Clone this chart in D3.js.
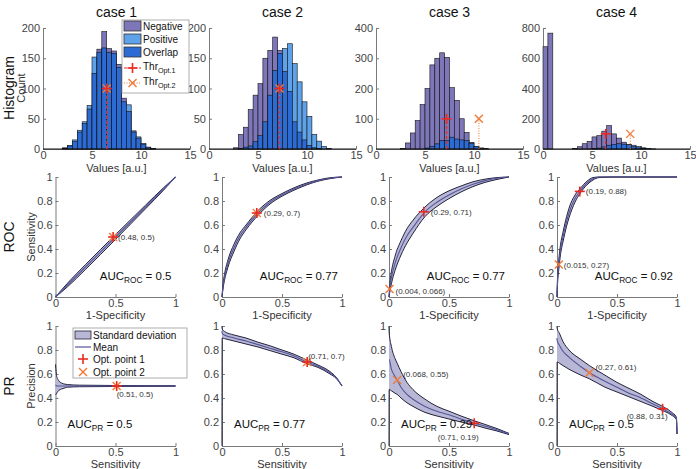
<!DOCTYPE html>
<html><head><meta charset="utf-8">
<script src="https://cdn.jsdelivr.net/npm/d3@7"></script>
<style>
body{margin:0;background:#fff}
text{font-family:"Liberation Sans",Arial,Helvetica,sans-serif}
</style>
</head><body>
<svg id="c" width="696" height="469"></svg>
<script>
// ---------------- DATA ----------------
const caseNames = ["case 1","case 2","case 3","case 4"];
const rowNames = ["Histogram","ROC","PR"];
const binStarts = [0,0.5,1,1.5,2,2.5,3,3.5,4,4.5,5,5.5,6,6.5,7,7.5,8,8.5,9,9.5,10,10.5,11,11.5,12,12.5,13,13.5,14,14.5];
const binWidth = 0.5;
const hist1Neg = [0,0,0,0,2,5,12,28,42,66,125,165,194,166,162,140,84,62,30,18,8,3,1,0,0,0,0,0,0,0];
const hist1Pos = [0,0,0,0,1,6,15,31,45,72,152,160,167,160,158,135,78,73,28,20,9,3,1,0,0,0,0,0,0,0];
const hist2Neg = [0,0,0,0,0,2,24,36,65,89,108,150,163,185,163,128,95,45,28,15,6,2,1,0,0,0,0,0,0,0];
const hist2Pos = [0,0,0,0,0,0,1,3,5,12,22,45,89,130,158,166,174,141,111,78,54,24,13,4,1,0,0,0,0,0];
const hist3Neg = [0,0,0,0,0,2,20,53,94,147,200,278,300,318,303,203,161,100,55,22,8,3,0,0,0,0,0,0,0,0];
const hist3Pos = [0,0,0,0,0,0,0,0,0,0,3,9,17,28,28,39,33,30,28,19,9,3,1,0,0,0,0,0,0,0];
const hist4Neg = [676,766,0,0,0,0,3,15,35,50,80,88,118,155,100,72,45,30,15,7,3,0,0,0,0,0,0,0,0,0];
const hist4Pos = [0,0,0,0,0,0,0,0,0,0,2,6,14,25,30,35,32,28,25,17,8,3,1,0,0,0,0,0,0,0];
const histNeg = [hist1Neg,hist2Neg,hist3Neg,hist4Neg];
const histPos = [hist1Pos,hist2Pos,hist3Pos,hist4Pos];
const histYMax = [200,200,400,800];
const histXTicks = [0,5,10,15];
const histYTicks = [[0,50,100,150,200],[0,50,100,150,200],[0,100,200,300,400],[0,200,400,600,800]];
const thrOpt1 = [6.5,7.2,7.2,6.4];
const thrOpt2 = [6.5,7.2,10.5,8.9];
const thrCount = 100;

const unitTicks = [0,0.5,1];
const unitYTicks = [0,0.2,0.4,0.6,0.8,1];

// ROC: false positive rate (x), true positive rate lower / mean / upper
const roc1X    = [0,0.1,0.25,0.5,0.75,0.9,1];
const roc1Mean = [0,0.1,0.25,0.5,0.75,0.9,1];
const roc1Lo   = [0,0.085,0.23,0.48,0.735,0.89,1];
const roc1Hi   = [0,0.115,0.27,0.52,0.765,0.91,1];
const roc2X    = [0,0.01,0.02,0.05,0.1,0.15,0.2,0.3,0.4,0.5,0.6,0.7,0.8,0.9,1];
const roc2Mean = [0,0.10,0.16,0.28,0.41,0.51,0.58,0.70,0.79,0.85,0.90,0.94,0.97,0.99,1];
const roc2Lo   = [0,0.08,0.135,0.25,0.38,0.485,0.56,0.68,0.775,0.84,0.89,0.932,0.965,0.986,1];
const roc2Hi   = [0,0.12,0.185,0.31,0.44,0.535,0.60,0.72,0.805,0.862,0.91,0.948,0.975,0.994,1];
const roc3X    = [0,0.01,0.02,0.05,0.1,0.15,0.2,0.3,0.4,0.5,0.6,0.7,0.8,0.9,1];
const roc3Mean = [0,0.10,0.16,0.28,0.41,0.51,0.58,0.71,0.79,0.85,0.90,0.94,0.97,0.99,1];
const roc3Lo   = [0,0.06,0.11,0.22,0.35,0.45,0.53,0.67,0.755,0.82,0.875,0.92,0.955,0.98,1];
const roc3Hi   = [0,0.14,0.21,0.34,0.47,0.57,0.64,0.75,0.83,0.885,0.925,0.96,0.982,0.995,1];
const roc4X    = [0,0.005,0.015,0.03,0.05,0.08,0.1,0.15,0.19,0.25,0.3,0.35,0.5,1];
const roc4Mean = [0,0.15,0.27,0.40,0.50,0.63,0.70,0.82,0.88,0.95,0.985,1,1,1];
const roc4Lo   = [0,0.12,0.23,0.36,0.46,0.59,0.66,0.79,0.86,0.935,0.975,0.995,1,1];
const roc4Hi   = [0,0.18,0.31,0.44,0.54,0.67,0.74,0.85,0.90,0.965,0.995,1,1,1];

// PR: sensitivity (x), precision lower / mean / upper
const pr1X    = [0,0.005,0.01,0.02,0.03,0.05,0.08,0.1,0.2,0.5,1];
const pr1Mean = [0.51,0.505,0.5,0.5,0.5,0.5,0.5,0.5,0.5,0.5,0.5];
const pr1Lo   = [0.43,0.43,0.44,0.455,0.465,0.475,0.485,0.49,0.494,0.496,0.498];
const pr1Hi   = [0.68,0.62,0.58,0.555,0.54,0.525,0.515,0.512,0.507,0.504,0.502];
const pr2X    = [0,0.001,0.02,0.1,0.2,0.3,0.4,0.5,0.6,0.71,0.8,0.9,0.95,1];
const pr2Mean = [0.96,0.94,0.925,0.9,0.875,0.845,0.815,0.785,0.75,0.70,0.665,0.61,0.57,0.5];
const pr2Hi   = [1,0.975,0.955,0.925,0.9,0.865,0.835,0.8,0.765,0.715,0.675,0.62,0.575,0.5];
const pr2Lo   = [0,0.9,0.895,0.875,0.85,0.825,0.795,0.765,0.735,0.685,0.655,0.6,0.565,0.5];
const pr3X    = [0,0.001,0.02,0.05,0.068,0.1,0.15,0.2,0.3,0.4,0.5,0.6,0.71,0.8,0.9,1];
const pr3Mean = [0.72,0.72,0.64,0.58,0.55,0.49,0.43,0.39,0.33,0.29,0.26,0.225,0.19,0.165,0.135,0.1];
const pr3Hi   = [1,0.95,0.83,0.73,0.69,0.62,0.53,0.47,0.39,0.33,0.29,0.25,0.21,0.18,0.145,0.105];
const pr3Lo   = [0,0.47,0.46,0.44,0.43,0.4,0.36,0.33,0.28,0.25,0.225,0.2,0.175,0.15,0.125,0.095];
const pr4X    = [0,0.001,0.02,0.05,0.1,0.2,0.27,0.4,0.5,0.6,0.7,0.8,0.88,0.95,0.995,1];
const pr4Mean = [0.9,0.88,0.84,0.79,0.74,0.66,0.61,0.54,0.49,0.44,0.4,0.35,0.31,0.27,0.23,0.1];
const pr4Hi   = [1,0.98,0.94,0.87,0.8,0.72,0.67,0.59,0.53,0.48,0.43,0.37,0.33,0.285,0.24,0.1];
const pr4Lo   = [0,0.70,0.69,0.67,0.64,0.59,0.56,0.49,0.45,0.41,0.37,0.33,0.295,0.26,0.22,0.1];

const rocX = [roc1X,roc2X,roc3X,roc4X], rocMean=[roc1Mean,roc2Mean,roc3Mean,roc4Mean],
      rocLo=[roc1Lo,roc2Lo,roc3Lo,roc4Lo], rocHi=[roc1Hi,roc2Hi,roc3Hi,roc4Hi];
const prX = [pr1X,pr2X,pr3X,pr4X], prMean=[pr1Mean,pr2Mean,pr3Mean,pr4Mean],
      prLo=[pr1Lo,pr2Lo,pr3Lo,pr4Lo], prHi=[pr1Hi,pr2Hi,pr3Hi,pr4Hi];

const rocOpt1 = [[0.48,0.5],[0.29,0.7],[0.29,0.71],[0.19,0.88]];
const rocOpt2 = [[0.48,0.5],[0.29,0.7],[0.004,0.066],[0.015,0.27]];
const rocLbl1 = ["(0.48, 0.5)","(0.29, 0.7)","(0.29, 0.71)","(0.19, 0.88)"];
const rocLbl2 = [null,null,"(0.004, 0.066)","(0.015, 0.27)"];
const prOpt1 = [[0.51,0.5],[0.71,0.7],[0.71,0.19],[0.88,0.31]];
const prOpt2 = [[0.51,0.5],[0.71,0.7],[0.068,0.55],[0.27,0.61]];
const prLbl1 = ["(0.51, 0.5)","(0.71, 0.7)","(0.71, 0.19)","(0.88, 0.31)"];
const prLbl2 = [null,null,"(0.068, 0.55)","(0.27, 0.61)"];
const aucRoc = ["0.5","0.77","0.77","0.92"];
const aucPr  = ["0.5","0.77","0.29","0.5"];

// ---------------- LAYOUT / STYLE ----------------
const histX0=[43,209,376,543], histW=147, histTop=28, histBot=149;
const sqX0=[55.5,222,389,557], sqW=120;
const rocTop=177, rocBot=297, prTop=326, prBot=446;
const cNeg="#7d77b9", cPos="#5ea3ea", cOv="#2c6bd3";
const cBand="#b8b8d6", cEdge="#22223c", cMean="#55559a";
const cRed="#ea2a22", cOrg="#f07a38";
const axisCol="#7a7a7a", textCol="#444";
const FF='"Liberation Sans",Arial,Helvetica,sans-serif';
// label offsets [dx, dy, anchor]
const rocLbl1Off=[[5,3,"start"],[7,3,"start"],[7,3,"start"],[6,3,"start"]];
const rocLbl2Off=[null,null,[6,5,"start"],[5,3,"start"]];
const prLbl1Off=[[0,11,"start"],[1,-3,"start"],[-16,17,"middle"],[5,10,"end"]];
const prLbl2Off=[null,null,[6,-3,"start"],[6,-3,"start"]];

const svg=d3.select("#c");

function styleAxis(a){
  a.attr("font-family",FF).attr("font-size",11);
  a.select(".domain").attr("stroke",axisCol);
  a.selectAll(".tick line").attr("stroke",axisCol);
  a.selectAll(".tick text").attr("fill",textCol);
}
function drawAxes(x,y,xt,yt){
  const ax=svg.append("g").attr("transform",`translate(0,${y.range()[0]})`)
    .call(d3.axisBottom(x).tickValues(xt).tickSizeInner(-3).tickSizeOuter(0).tickPadding(2).tickFormat(d=>String(d)));
  const ay=svg.append("g").attr("transform",`translate(${x.range()[0]},0)`)
    .call(d3.axisLeft(y).tickValues(yt).tickSizeInner(-3).tickSizeOuter(0).tickPadding(3).tickFormat(d=>String(d)));
  styleAxis(ax); styleAxis(ay);
}
function plus(g,cx,cy,s,col){
  g.append("line").attr("x1",cx-s).attr("x2",cx+s).attr("y1",cy).attr("y2",cy).attr("stroke",col).attr("stroke-width",1.6);
  g.append("line").attr("x1",cx).attr("x2",cx).attr("y1",cy-s).attr("y2",cy+s).attr("stroke",col).attr("stroke-width",1.6);
}
function cross(g,cx,cy,s,col){
  g.append("line").attr("x1",cx-s).attr("x2",cx+s).attr("y1",cy-s).attr("y2",cy+s).attr("stroke",col).attr("stroke-width",1.4);
  g.append("line").attr("x1",cx-s).attr("x2",cx+s).attr("y1",cy+s).attr("y2",cy-s).attr("stroke",col).attr("stroke-width",1.4);
}
function subText(g,x,y,main,sub,rest,fs,anchor){
  const t=g.append("text").attr("x",x).attr("y",y).attr("font-size",fs).attr("fill","#111").attr("text-anchor",anchor||"start");
  t.append("tspan").text(main);
  t.append("tspan").attr("dy",3).attr("font-size",fs*0.72).text(sub);
  if(rest!==null) t.append("tspan").attr("dy",-3).text(rest);
  return t;
}
function rotLabel(x,y,txt,fs,col){
  svg.append("text").attr("transform",`translate(${x},${y}) rotate(-90)`).attr("text-anchor","middle")
    .attr("font-size",fs).attr("fill",col).text(txt);
}

// ---------------- ROW LABELS ----------------
rotLabel(14,88,rowNames[0],14,"#111");
rotLabel(14,237,rowNames[1],14,"#111");
rotLabel(14,386,rowNames[2],14,"#111");

// ---------------- HISTOGRAMS ----------------
caseNames.forEach((cn,k)=>{
  const x=d3.scaleLinear().domain([0,15]).range([histX0[k],histX0[k]+histW]);
  const y=d3.scaleLinear().domain([0,histYMax[k]]).range([histBot,histTop]);
  svg.append("text").attr("x",histX0[k]+histW/2).attr("y",17).attr("text-anchor","middle")
    .attr("font-size",14).attr("fill","#111").text(cn);
  drawAxes(x,y,histXTicks,histYTicks[k]);
  const g=svg.append("g");
  binStarts.forEach((b,i)=>{
    const n=histNeg[k][i], p=histPos[k][i];
    const hi=Math.max(n,p), lo=Math.min(n,p);
    const x0=x(b), w=x(b+binWidth)-x(b);
    if(hi>0) g.append("rect").attr("x",x0).attr("y",y(hi)).attr("width",w).attr("height",y(0)-y(hi))
      .attr("fill",n>=p?cNeg:cPos).attr("stroke","#111").attr("stroke-width",0.6);
    if(lo>0) g.append("rect").attr("x",x0).attr("y",y(lo)).attr("width",w).attr("height",y(0)-y(lo))
      .attr("fill",cOv).attr("stroke","#111").attr("stroke-width",0.6);
  });
  g.append("line").attr("x1",x(0)).attr("x2",x(15)).attr("y1",y(0)).attr("y2",y(0)).attr("stroke","#111").attr("stroke-width",1.2);
  // thresholds
  g.append("line").attr("x1",x(thrOpt2[k])).attr("x2",x(thrOpt2[k])).attr("y1",y(0)).attr("y2",y(thrCount))
    .attr("stroke",cOrg).attr("stroke-width",1).attr("stroke-dasharray","1,1.5");
  g.append("line").attr("x1",x(thrOpt1[k])).attr("x2",x(thrOpt1[k])).attr("y1",y(0)).attr("y2",y(thrCount))
    .attr("stroke",cRed).attr("stroke-width",1.2).attr("stroke-dasharray","3,2");
  cross(g,x(thrOpt2[k]),y(thrCount),4,cOrg);
  plus(g,x(thrOpt1[k]),y(thrCount),5,cRed);
  if(k===0) rotLabel(25,88,"Count",11,"#333");
  svg.append("text").attr("x",histX0[k]+histW/2).attr("y",172).attr("text-anchor","middle")
    .attr("font-size",11).attr("fill","#333").text("Values [a.u.]");
});

// histogram legend
(function(){
  const g=svg.append("g");
  g.append("rect").attr("x",122).attr("y",20).attr("width",67).attr("height",73).attr("fill","#fff").attr("stroke","#999").attr("stroke-width",0.8);
  const rows=[[26,"Negative",cNeg],[39,"Positive",cPos],[52,"Overlap",cOv]];
  rows.forEach(r=>{
    g.append("rect").attr("x",124).attr("y",r[0]-5).attr("width",17).attr("height",10).attr("fill",r[2]).attr("stroke","#333").attr("stroke-width",0.8);
    g.append("text").attr("x",143).attr("y",r[0]+3.5).attr("font-size",10).attr("fill","#111").text(r[1]);
  });
  g.append("line").attr("x1",124).attr("x2",141).attr("y1",68).attr("y2",68).attr("stroke",cRed).attr("stroke-dasharray","3,2").attr("stroke-width",1.2);
  plus(g,132.5,68,5,cRed);
  subText(g,143,70,"Thr","Opt.1",null,10);
  g.append("line").attr("x1",124).attr("x2",141).attr("y1",83).attr("y2",83).attr("stroke",cOrg).attr("stroke-dasharray","1,1.5").attr("stroke-width",1);
  cross(g,132.5,83,4,cOrg);
  subText(g,143,85,"Thr","Opt.2",null,10);
})();

// ---------------- ROC / PR ----------------
function curvePanel(k,top,bot,X,Lo,Mean,Hi,opt1,opt2,l1,l2,o1,o2,xlabel,ylabel,aucSub,aucVal,aucPos){
  const x=d3.scaleLinear().domain([0,1]).range([sqX0[k],sqX0[k]+sqW]);
  const y=d3.scaleLinear().domain([0,1]).range([bot,top]);
  drawAxes(x,y,unitTicks,unitYTicks);
  const g=svg.append("g");
  const idx=X.map((d,i)=>i);
  const area=d3.area().x(i=>x(X[i])).y0(i=>y(Lo[i])).y1(i=>y(Hi[i])).curve(d3.curveMonotoneX);
  const line=arr=>d3.line().x(i=>x(X[i])).y(i=>y(arr[i])).curve(d3.curveMonotoneX);
  g.append("path").attr("d",area(idx)).attr("fill",cBand);
  g.append("path").attr("d",line(Lo)(idx)).attr("fill","none").attr("stroke",cEdge).attr("stroke-width",1);
  g.append("path").attr("d",line(Hi)(idx)).attr("fill","none").attr("stroke",cEdge).attr("stroke-width",1);
  g.append("path").attr("d",line(Mean)(idx)).attr("fill","none").attr("stroke",cMean).attr("stroke-width",1.1);
  cross(g,x(opt2[0]),y(opt2[1]),4,cOrg);
  plus(g,x(opt1[0]),y(opt1[1]),5,cRed);
  const lab=(txt,pt,off)=>{
    if(!txt) return;
    g.append("text").attr("x",x(pt[0])+off[0]).attr("y",y(pt[1])+off[1]).attr("text-anchor",off[2])
      .attr("font-size",8).attr("fill","#333").text(txt);
  };
  lab(l1,opt1,o1); lab(l2,opt2,o2);
  svg.append("text").attr("x",sqX0[k]+sqW/2).attr("y",bot+22).attr("text-anchor","middle")
    .attr("font-size",11).attr("fill","#333").text(xlabel);
  if(k===0) rotLabel(35,(top+bot)/2,ylabel,11,"#333");
  if(aucPos==="right") subText(g,sqX0[k]+sqW-4,bot-17,"AUC",aucSub," = "+aucVal,11.5,"end");
  else subText(g,sqX0[k]+12,bot-18,"AUC",aucSub," = "+aucVal,11.5,"start");
}
caseNames.forEach((cn,k)=>{
  curvePanel(k,rocTop,rocBot,rocX[k],rocLo[k],rocMean[k],rocHi[k],rocOpt1[k],rocOpt2[k],rocLbl1[k],rocLbl2[k],rocLbl1Off[k],rocLbl2Off[k],
    "1-Specificity","Sensitivity","ROC",aucRoc[k],"right");
  curvePanel(k,prTop,prBot,prX[k],prLo[k],prMean[k],prHi[k],prOpt1[k],prOpt2[k],prLbl1[k],prLbl2[k],prLbl1Off[k],prLbl2Off[k],
    "Sensitivity","Precision","PR",aucPr[k],"left");
});

// PR legend
(function(){
  const g=svg.append("g");
  g.append("rect").attr("x",73).attr("y",328).attr("width",114).attr("height",50).attr("fill","#fff").attr("stroke","#999").attr("stroke-width",0.8);
  g.append("rect").attr("x",75).attr("y",331).attr("width",16).attr("height",8).attr("fill",cBand).attr("stroke",cEdge).attr("stroke-width",0.8);
  g.append("text").attr("x",93).attr("y",338.5).attr("font-size",10).attr("fill","#111").text("Standard deviation");
  g.append("line").attr("x1",75).attr("x2",91).attr("y1",347).attr("y2",347).attr("stroke",cMean).attr("stroke-width",1.2);
  g.append("text").attr("x",93).attr("y",350.5).attr("font-size",10).attr("fill","#111").text("Mean");
  plus(g,83,359,5,cRed);
  g.append("text").attr("x",93).attr("y",362.5).attr("font-size",10).attr("fill","#111").text("Opt. point 1");
  cross(g,83,372,4,cOrg);
  g.append("text").attr("x",93).attr("y",375.5).attr("font-size",10).attr("fill","#111").text("Opt. point 2");
})();
</script>
</body></html>
